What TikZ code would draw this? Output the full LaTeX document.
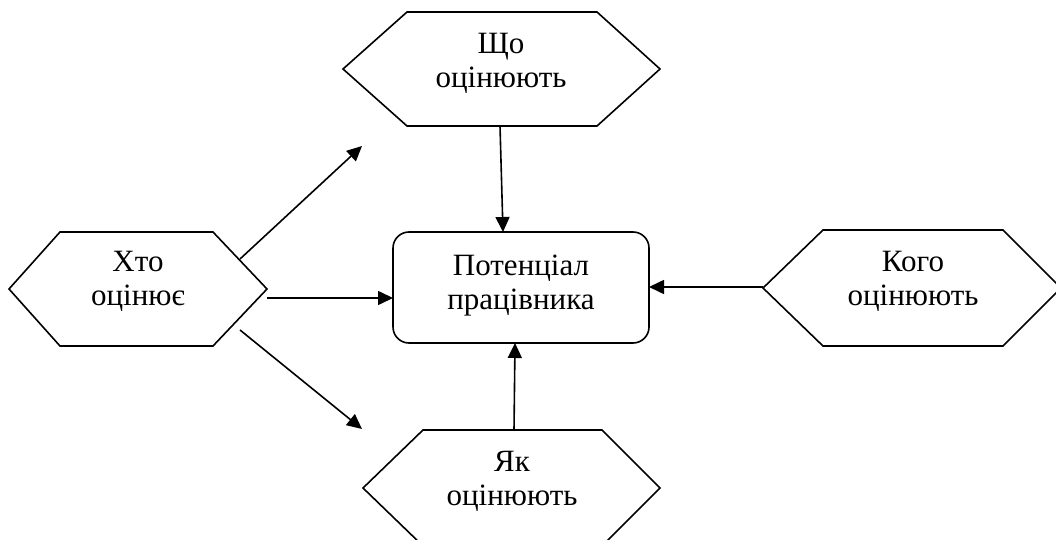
\documentclass[tikz,border=0pt]{standalone}
\usepackage{fontspec}
\setmainfont{Liberation Serif}
\usetikzlibrary{arrows.meta}
\begin{document}
\begin{tikzpicture}[x=1pt,y=-1pt,
  hexline/.style={line width=1.6pt,line join=miter},
  lbl/.style={align=center,inner sep=0pt,font=\fontsize{31}{34}\selectfont},
  conn/.style={line width=1.6pt,-{Triangle[length=15pt,width=14pt]}},
  box/.style={draw,line width=1.6pt,rounded corners=16pt,minimum width=256pt,minimum height=111pt,inner sep=0pt}]
\useasboundingbox (0,0) rectangle (1056,540);
% hexagon vertices
\coordinate (TL) at (343,69);  \coordinate (TTL) at (407,12);  \coordinate (TTR) at (597,12);
\coordinate (TR) at (660,69);  \coordinate (TBR) at (597,126); \coordinate (TBL) at (407,126);
\coordinate (HL) at (9,289);   \coordinate (HTL) at (60,232);  \coordinate (HTR) at (213,232);
\coordinate (HR) at (267,289); \coordinate (HBR) at (213,346); \coordinate (HBL) at (60,346);
\coordinate (KL) at (763,288); \coordinate (KTL) at (823,230); \coordinate (KTR) at (1003,230);
\coordinate (KR) at (1061,288);\coordinate (KBR) at (1003,346);\coordinate (KBL) at (823,346);
\coordinate (YL) at (363,488); \coordinate (YTL) at (423,430); \coordinate (YTR) at (602,430);
\coordinate (YR) at (660,488); \coordinate (YBR) at (602,546); \coordinate (YBL) at (423,546);
\draw[hexline] (TL)--(TTL)--(TTR)--(TR)--(TBR)--(TBL)--cycle;
\draw[hexline] (HL)--(HTL)--(HTR)--(HR)--(HBR)--(HBL)--cycle;
\draw[hexline] (KL)--(KTL)--(KTR)--(KR)--(KBR)--(KBL)--cycle;
\draw[hexline] (YL)--(YTL)--(YTR)--(YR)--(YBR)--(YBL)--cycle;
% labels
\node[lbl] (what) at (501,63) {Що\\оцінюють};
\node[lbl] (who) at (138,281) {Хто\\оцінює};
\node[lbl] (whom) at (913,281) {Кого\\оцінюють};
\node[lbl] (how) at (512,481) {Як\\оцінюють};
\node[box] (pot) at (521,287.5) {};
\node[lbl] (potl) at (521,286) {Потенціал\\працівника};
% connector end points
\coordinate (a1s) at (500,126); \coordinate (a1e) at (503,232);
\coordinate (a2s) at (267,298); \coordinate (a2e) at (393,298);
\coordinate (a3s) at (763,287); \coordinate (a3e) at (649,287);
\coordinate (a4s) at (514,430); \coordinate (a4e) at (515,343);
\coordinate (a5s) at (240,259); \coordinate (a5e) at (362,146);
\coordinate (a6s) at (240,330); \coordinate (a6e) at (362,429);
\draw[conn] (a1s) -- (a1e);
\draw[conn] (a2s) -- (a2e);
\draw[conn] (a3s) -- (a3e);
\draw[conn] (a4s) -- (a4e);
\draw[conn] (a5s) -- (a5e);
\draw[conn] (a6s) -- (a6e);
\end{tikzpicture}
\end{document}
